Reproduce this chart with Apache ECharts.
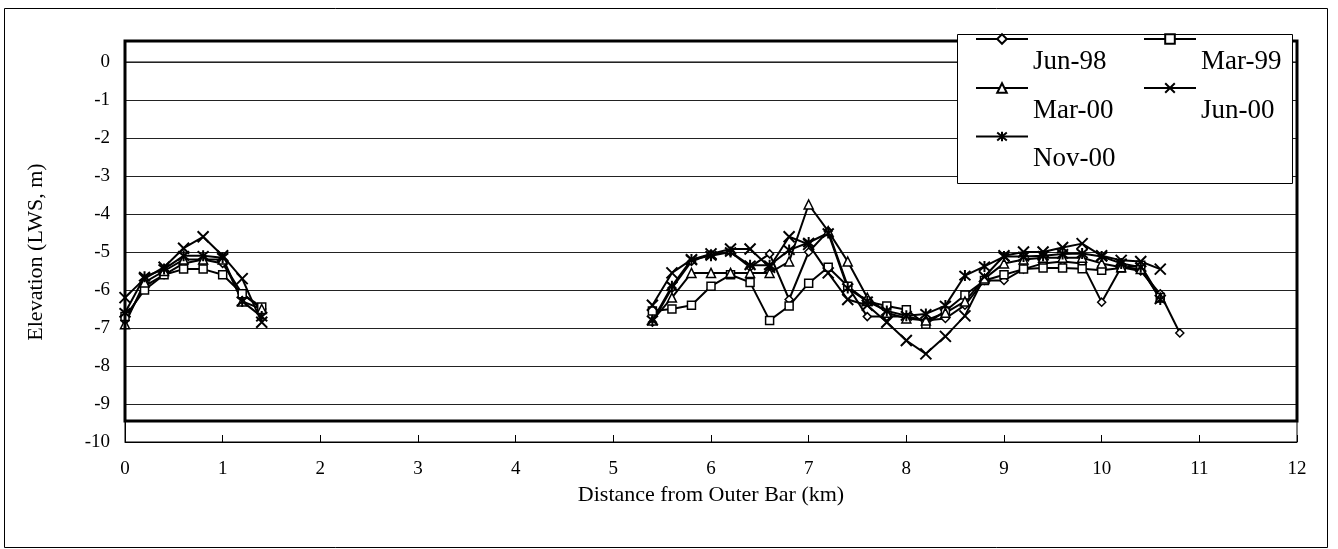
<!DOCTYPE html>
<html><head><meta charset="utf-8">
<script src="https://cdn.jsdelivr.net/npm/echarts@6/dist/echarts.min.js"></script>
<style>html,body{margin:0;padding:0;background:#fff}#c{width:1338px;height:549px}</style>
</head><body><div id="c"></div>
<script>
// ---------------- data ----------------
const seriesNames = ['Jun-98', 'Mar-99', 'Mar-00', 'Jun-00', 'Nov-00'];
const distLeft  = [0, 0.2, 0.4, 0.6, 0.8, 1.0, 1.2, 1.4];
const distRight = [5.4, 5.6, 5.8, 6.0, 6.2, 6.4, 6.6, 6.8, 7.0, 7.2, 7.4, 7.6, 7.8, 8.0,
                   8.2, 8.4, 8.6, 8.8, 9.0, 9.2, 9.4, 9.6, 9.8, 10.0, 10.2, 10.4, 10.6, 10.8];

const jun98Left = [-6.8, -5.9, -5.6, -5.3, -5.2, -5.3, -6.1, -6.5];
const mar99Left = [-6.7, -6.0, -5.6, -5.45, -5.45, -5.6, -6.1, -6.45];
const mar00Left = [-6.9, -5.8, -5.5, -5.2, -5.2, -5.2, -6.3, -6.5];
const jun00Left = [-6.2, -5.7, -5.4, -4.9, -4.6, -5.1, -5.7, -6.85];
const nov00Left = [-6.6, -5.65, -5.45, -5.1, -5.1, -5.15, -6.3, -6.7];

const jun98Right = [-6.85, -5.95, -5.25, -5.05, -5.0, -5.4, -5.05, -6.25, -5.0, -4.45, -5.9, -6.7, -6.7, -6.7,
                    -6.8, -6.75, -6.4, -5.75, -5.75, -5.45, -5.3, -5.25, -5.3, -6.32, -5.4, -5.5, -6.1, -7.13];
const mar99Right = [-6.55, -6.5, -6.4, -5.9, -5.6, -5.8, -6.8, -6.42, -5.82, -5.4, -5.9, -6.3, -6.42, -6.52,
                    -6.9, -6.55, -6.13, -5.75, -5.6, -5.45, -5.42, -5.42, -5.44, -5.48, -5.42, -5.35, -6.2, null];
const mar00Right = [-6.8, -6.2, -5.55, -5.55, -5.55, -5.55, -5.55, -5.25, -3.75, -4.45, -5.25, -6.2, -6.6, -6.75,
                    -6.8, -6.6, -6.3, -5.7, -5.3, -5.2, -5.15, -5.15, -5.15, -5.3, -5.4, -5.45, -6.2, null];
const jun00Right = [-6.4, -5.55, -5.2, -5.05, -4.92, -4.92, -5.4, -4.6, -4.8, -5.55, -6.25, -6.4, -6.85, -7.33,
                    -7.68, -7.22, -6.68, -5.65, -5.1, -5.0, -5.0, -4.88, -4.78, -5.1, -5.22, -5.25, -5.45, null];
const nov00Right = [-6.8, -5.9, -5.2, -5.1, -5.0, -5.35, -5.35, -4.95, -4.75, -4.5, -5.95, -6.3, -6.55, -6.68,
                    -6.63, -6.41, -5.62, -5.38, -5.12, -5.12, -5.1, -5.05, -5.04, -5.12, -5.3, -5.4, -6.25, null];

const leftValues  = [jun98Left, mar99Left, mar00Left, jun00Left, nov00Left];
const rightValues = [jun98Right, mar99Right, mar00Right, jun00Right, nov00Right];

// ---------------- styling ----------------
const FONT = '"Liberation Serif", "Times New Roman", serif';
const symbols = ['diamond', 'rect', 'triangle',
  'path://M0,0L10,10M10,0L0,10',
  'path://M0,0L10,10M10,0L0,10M5,-1L5,11'];
const symbolSizes = [8, 8, 9, 11, 11];
const borderWidths = [1.5, 1.5, 1.5, 2, 2];

function buildData(left, right) {
  const d = [];
  distLeft.forEach((x, i) => { if (left[i] != null) d.push([x, left[i]]); });
  d.push([(distLeft[distLeft.length - 1] + distRight[0]) / 2, '-']); // gap between surveyed stretches
  distRight.forEach((x, i) => { if (right[i] != null) d.push([x, right[i]]); });
  return d;
}

const series = seriesNames.map((name, i) => ({
  name: name,
  type: 'line',
  data: buildData(leftValues[i], rightValues[i]),
  symbol: symbols[i],
  symbolSize: symbolSizes[i],
  showAllSymbol: true,
  connectNulls: false,
  lineStyle: { color: '#000', width: 2 },
  itemStyle: { color: '#fff', borderColor: '#000', borderWidth: borderWidths[i] },
  emphasis: { disabled: true },
  z: 2
}));

// legend layout: 2 columns, line sample on one row, label on the next row shifted right
const legendCols = [975, 1143];
const legendRows = [-6, 43, 91.5];
const legends = seriesNames.map((name, i) => ({
  data: [name],
  left: legendCols[i % 2],
  top: legendRows[Math.floor(i / 2)],
  padding: 0,
  itemWidth: 52,
  itemHeight: 12,
  itemGap: 0,
  selectedMode: false,
  z: 12,
  formatter: n => '\n' + n,
  textStyle: { fontFamily: FONT, fontSize: 27, color: '#000', lineHeight: 45 }
}));

const chart = echarts.init(document.getElementById('c'), null, { renderer: 'canvas' });
chart.setOption({
  animation: false,
  backgroundColor: '#fff',
  grid: { left: 125, right: 41, top: 62, bottom: 107, show: true, borderColor: '#000', borderWidth: 1,
          backgroundColor: 'transparent', outerBoundsMode: 'none' },
  xAxis: {
    type: 'value', min: 0, max: 12, interval: 1,
    name: 'Distance from Outer Bar (km)', nameLocation: 'middle', nameGap: 36,
    nameTextStyle: { fontFamily: FONT, fontSize: 22, color: '#000' },
    axisLine: { show: true, onZero: false, lineStyle: { color: '#000', width: 1 } },
    axisTick: { show: true, inside: true, length: 7, lineStyle: { color: '#000' } },
    axisLabel: { fontFamily: FONT, fontSize: 19, color: '#000', margin: 18 },
    splitLine: { show: false }
  },
  yAxis: {
    type: 'value', min: -10, max: 0, interval: 1,
    name: 'Elevation (LWS, m)', nameLocation: 'middle', nameGap: 78,
    nameTextStyle: { fontFamily: FONT, fontSize: 22, color: '#000' },
    axisLine: { show: true, onZero: false, lineStyle: { color: '#000', width: 1 } },
    axisTick: { show: false },
    axisLabel: { fontFamily: FONT, fontSize: 19, color: '#000', margin: 15 },
    splitLine: { show: true, lineStyle: { color: '#222', width: 1 } }
  },
  legend: legends,
  graphic: { elements: [
    { type: 'rect', silent: true, z: 0, shape: { x: 4.5, y: 8.5, width: 1323, height: 539 },
      style: { fill: 'none', stroke: '#000', lineWidth: 1 } },
    { type: 'rect', silent: true, z: 3, shape: { x: 125, y: 41, width: 1172, height: 380 },
      style: { fill: 'none', stroke: '#000', lineWidth: 3 } },
    { type: 'rect', silent: true, z: 10, shape: { x: 957.5, y: 34.5, width: 335, height: 149 },
      style: { fill: '#fff', stroke: '#000', lineWidth: 1 } }
  ] },
  series: series
});
</script>
</body></html>
